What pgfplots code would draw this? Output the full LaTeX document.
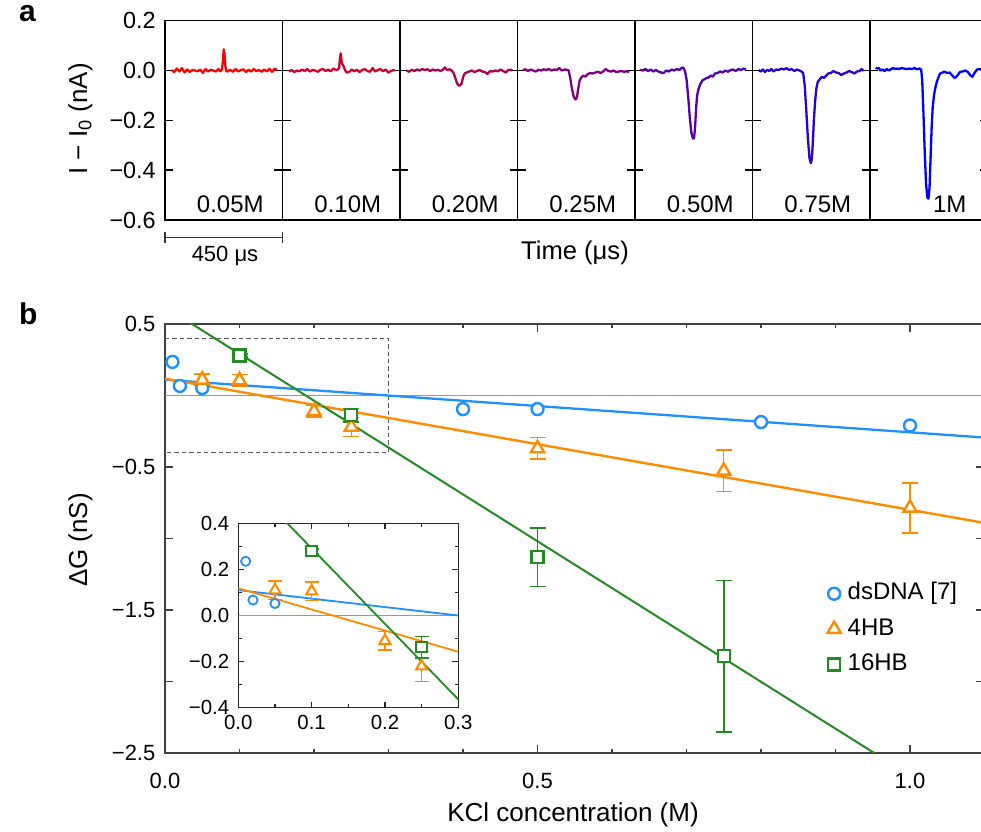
\documentclass[border=0pt]{standalone}
\usepackage{pgfplots}
\usepackage{pgfplotstable}
\pgfplotsset{compat=1.18}
\usepackage{fontspec}
\setmainfont{Liberation Sans}

\definecolor{dsblue}{RGB}{30,144,255}
\definecolor{hborange}{RGB}{255,140,0}
\definecolor{hbgreen}{RGB}{34,139,34}
\newcommand{\fs}[1]{\fontsize{#1}{#1}\selectfont}
\newlength{\errcap}

% ---- panel b: conductance change vs KCl ----
\pgfplotstableread{
x y
0.01 0.235
0.02 0.067
0.05 0.052
0.40 -0.095
0.50 -0.095
0.80 -0.186
1.00 -0.210
}\dsdna
\pgfplotstableread{
x y e
0.05 0.110 0.040
0.10 0.105 0.040
0.20 -0.110 0.040
0.25 -0.220 0.065
0.50 -0.370 0.075
0.75 -0.527 0.145
1.00 -0.786 0.175
}\fourhb
\pgfplotstableread{
x y e
0.10 0.279 0.010
0.25 -0.137 0.047
0.50 -1.130 0.205
0.75 -1.822 0.530
}\sixteenhb
% linear fits, end points
\pgfplotstableread{
x yds yfour ysixteen
0.0 0.110 0.118 0.619
1.1 -0.294 -0.891 -2.985
}\fits

% ---- panel a: current traces ----
\pgfplotstableread{
t v
25 0.002
35 -0.006
45 0.008
55 -0.004
65 0.010
75 -0.008
85 0.004
95 -0.006
105 0.002
115 0.000
125 -0.003
135 0.004
145 -0.010
155 0.006
165 -0.004
175 0.003
185 0.000
195 -0.004
205 0.006
212 -0.003
218 0.004
222 0.040
225 0.085
228 0.068
231 0.020
234 -0.002
240 -0.004
250 0.003
260 -0.005
270 0.006
280 -0.003
290 0.001
300 0.005
310 -0.006
320 0.003
330 -0.004
340 0.006
350 -0.002
360 0.002
370 -0.005
380 0.004
390 -0.003
400 0.007
410 -0.005
420 0.008
428 0.002
}\traceA
\pgfplotstableread{
t v
25 -0.004
35 0.002
45 -0.006
55 0.000
65 -0.003
75 0.004
85 -0.002
95 0.006
105 -0.004
115 0.002
125 0.000
135 -0.005
145 0.003
155 0.006
165 -0.002
175 0.004
185 -0.003
195 0.008
205 0.002
212 0.004
217 0.010
220 0.050
223 0.069
226 0.040
229 0.025
233 0.020
238 0.005
245 -0.008
255 -0.006
265 0.004
275 -0.003
285 0.003
295 -0.006
305 0.002
315 0.006
325 -0.002
335 -0.005
345 0.010
355 -0.004
365 0.002
375 0.006
385 -0.003
395 0.004
405 -0.008
415 -0.002
425 0.002
430 -0.002
}\traceB
\pgfplotstableread{
t v
25 0.000
35 -0.005
45 0.003
55 -0.002
65 0.004
75 0.000
85 0.006
95 0.002
105 0.005
115 -0.002
125 0.004
135 0.000
145 0.003
155 -0.002
165 0.004
172 0.012
180 0.002
190 0.005
198 0.000
205 -0.010
212 -0.030
218 -0.050
224 -0.060
230 -0.060
236 -0.052
242 -0.025
248 -0.012
255 -0.008
265 -0.004
275 0.000
285 -0.006
295 -0.002
305 0.002
315 -0.004
325 -0.006
335 -0.014
345 -0.002
355 -0.004
365 0.000
375 -0.003
385 0.004
395 -0.002
405 -0.008
415 0.002
425 0.003
430 0.000
}\traceC
\pgfplotstableread{
t v
20 0.002
30 0.005
40 -0.002
50 0.004
60 0.000
70 -0.004
80 0.003
90 0.000
100 0.005
110 0.002
120 0.006
130 0.000
140 0.004
150 0.002
160 0.010
170 0.000
180 0.004
190 0.003
196 0.000
202 -0.030
208 -0.070
214 -0.100
220 -0.115
224 -0.116
228 -0.105
233 -0.070
238 -0.040
244 -0.028
252 -0.020
260 -0.025
268 -0.015
278 -0.010
288 -0.012
298 -0.008
308 -0.005
318 -0.010
328 -0.004
338 0.006
348 -0.002
358 -0.004
368 0.000
378 -0.006
388 -0.004
398 -0.002
408 -0.005
418 -0.003
428 -0.006
}\traceD
\pgfplotstableread{
t v
20 0.003
30 0.000
40 0.006
50 -0.002
60 0.004
70 -0.004
80 0.002
90 -0.004
100 -0.008
110 -0.010
120 0.000
130 -0.004
140 0.004
150 0.000
160 0.006
170 0.002
180 0.012
186 0.010
192 -0.005
198 -0.040
204 -0.110
210 -0.190
216 -0.250
222 -0.273
226 -0.273
230 -0.230
234 -0.150
238 -0.100
243 -0.075
250 -0.055
258 -0.040
266 -0.035
274 -0.030
282 -0.028
290 -0.020
298 -0.025
306 -0.012
316 -0.010
326 -0.004
336 -0.008
346 0.000
356 -0.005
366 0.002
376 0.004
386 -0.002
396 0.006
406 0.002
416 0.008
425 0.004
}\traceE
\pgfplotstableread{
t v
23 0.002
32 -0.004
40 0.004
48 -0.006
56 0.003
64 -0.002
72 0.006
80 -0.004
90 0.004
100 0.002
110 0.008
120 0.004
130 0.010
140 0.002
150 0.006
160 -0.002
170 0.004
180 0.000
188 -0.004
194 -0.010
200 -0.060
206 -0.160
212 -0.270
218 -0.350
223 -0.372
227 -0.358
231 -0.290
235 -0.200
240 -0.120
245 -0.070
250 -0.045
258 -0.035
266 -0.025
274 -0.030
282 -0.020
290 -0.012
300 -0.010
310 -0.002
320 -0.008
330 -0.010
340 -0.018
350 -0.012
360 -0.008
370 -0.002
380 -0.006
390 -0.012
400 -0.004
410 -0.002
418 0.006
425 -0.002
}\traceF
\pgfplotstableread{
t v
22 0.012
28 0.008
34 0.010
40 0.000
48 0.004
56 -0.002
64 0.006
72 0.000
80 0.005
88 0.010
96 0.006
104 0.008
112 0.006
120 0.010
130 0.008
140 0.006
150 0.008
160 0.006
170 0.010
180 0.005
190 0.008
196 0.004
200 -0.040
205 -0.180
210 -0.340
215 -0.460
220 -0.512
224 -0.514
228 -0.470
232 -0.350
236 -0.230
240 -0.150
245 -0.100
250 -0.070
256 -0.045
262 -0.028
268 -0.012
275 -0.010
285 -0.004
295 -0.010
305 -0.008
315 -0.020
325 -0.030
335 -0.020
345 -0.005
355 -0.004
365 0.000
375 -0.006
385 -0.020
392 -0.025
400 -0.010
410 0.004
420 0.006
430 0.004
}\traceG

\pgfplotsset{
  trace/.style={
    at={(#1,305.5pt)}, anchor=south west, scale only axis,
    width=58.75pt, height=99.65pt,
    xmin=0, xmax=450, ymin=-0.6, ymax=0.2,
    xtick=\empty, ytick={-0.6,-0.4,-0.2,0,0.2}, yticklabels={,,,,},
    tick align=inside, ytick pos=both, major tick length=4pt,
    axis line style={black, line width=0.75pt},
    every tick/.append style={black, line width=0.7pt},
  },
  tr/.style={#1, line width=1.15pt, line join=round},
  % error bar with a flat cap, drawn in the colour of its own plot
  ebar/.style 2 args={#1, only marks, mark=none, forget plot,
    error bars/.cd, y dir=both, y explicit,
    draw error bar/.code 2 args={%
      \draw[#1, line width=#2] ##1 -- ##2 node[pos=1, sloped, allow upside down,
        inner sep=0pt, outer sep=0pt, minimum width=0pt,
        minimum height=\errcap] (ecap) {};
      \draw[#1, line width=#2] (ecap.north) -- (ecap.south);
    }},
}
\tikzset{conc/.style={anchor=base east, font=\fs{12}}}

\begin{document}
\begin{tikzpicture}
\useasboundingbox (0,0) rectangle (490.5pt,415.5pt);

% ================= panel a =================
\begin{axis}[trace=82.5pt,
  yticklabels={−0.6,−0.4,−0.2,0.0,0.2},
  yticklabel style={font=\fs{11.7}, xshift=-1.1pt}]
  \addplot[tr=red] table {\traceA};
  \node[conc] at (rel axis cs:0.9,0.037) {0.05M};
\end{axis}
\begin{axis}[trace=141.25pt]
  \addplot[tr=red!83!blue] table {\traceB};
  \node[conc] at (rel axis cs:0.9,0.037) {0.10M};
\end{axis}
\begin{axis}[trace=200pt]
  \addplot[tr=red!67!blue] table {\traceC};
  \node[conc] at (rel axis cs:0.9,0.037) {0.20M};
\end{axis}
\begin{axis}[trace=258.75pt]
  \addplot[tr=red!50!blue] table {\traceD};
  \node[conc] at (rel axis cs:0.9,0.037) {0.25M};
\end{axis}
\begin{axis}[trace=317.5pt]
  \addplot[tr=red!33!blue] table {\traceE};
  \node[conc] at (rel axis cs:0.9,0.037) {0.50M};
\end{axis}
\begin{axis}[trace=376.25pt]
  \addplot[tr=red!17!blue] table {\traceF};
  \node[conc] at (rel axis cs:0.9,0.037) {0.75M};
\end{axis}
\begin{axis}[trace=435pt]
  \addplot[tr=blue] table {\traceG};
  \node[conc] at (rel axis cs:0.88,0.037) {1M};
\end{axis}

\node[anchor=base west, font=\fs{15}\bfseries] at (6pt,404.6pt) {a};
\node[rotate=90, anchor=base, font=\fs{13}] at (43.5pt,356pt) {I − I\textsubscript{0} (nA)};
\draw[black!80, line width=0.6pt] (82.5pt,296.6pt) -- (141.25pt,296.6pt);
\draw[black!80, line width=0.6pt] (82.5pt,299.3pt) -- (82.5pt,294pt);
\draw[black!80, line width=0.6pt] (141.25pt,299.3pt) -- (141.25pt,294pt);
\node[anchor=base, font=\fs{11}] at (112.5pt,284.7pt) {450 μs};
\node[anchor=base, font=\fs{12.8}] at (287.5pt,285.5pt) {Time (μs)};

% ================= panel b =================
\node[anchor=base west, font=\fs{15}\bfseries] at (6pt,253pt) {b};
\setlength{\errcap}{8pt}
\begin{axis}[
  at={(82.5pt,39pt)}, anchor=south west, scale only axis,
  width=409.75pt, height=214.5pt,
  xmin=0, xmax=1.1, ymin=-2.5, ymax=0.5,
  xtick={0,0.5,1}, xticklabels={0.0,0.5,1.0},
  minor xtick={0.1,0.2,0.3,0.4,0.6,0.7,0.8,0.9},
  ytick={0.5,0,-0.5,-1,-1.5,-2,-2.5},
  yticklabels={0.5,,−0.5,,−1.5,,−2.5},
  tick align=inside, xtick pos=both, ytick pos=both,
  major tick length=4.2pt, minor tick length=2pt,
  axis line style={black!75, line width=0.7pt},
  every tick/.append style={black!75, line width=0.6pt},
  xticklabel style={font=\fs{11}, yshift=-6.3pt},
  yticklabel style={font=\fs{11}, xshift=-1.3pt},
  legend style={draw=none, fill=none, at={(0.808,0.403)}, anchor=north west,
    inner sep=0pt, font=\fs{12}, row sep=4.5pt, column sep=2.5pt,
    nodes={inner sep=1pt, text height=8.6pt, text depth=2.6pt}},
  legend cell align=left,
]
  \addplot[gray!80, line width=0.5pt, forget plot] coordinates {(0,0) (1.1,0)};
  \addplot[black!65, line width=0.55pt, dash pattern=on 2.2pt off 1.5pt, forget plot]
    coordinates {(0,0.4) (0.3,0.4) (0.3,-0.4) (0,-0.4)};
  \addplot[dsblue, line width=1.15pt, forget plot] table[x=x, y=yds] {\fits};
  \addplot[hborange, line width=1.2pt, forget plot] table[x=x, y=yfour] {\fits};
  \addplot[hbgreen, line width=1pt, forget plot] table[x=x, y=ysixteen] {\fits};
  \addplot[ebar={hborange}{0.7pt}] table[x=x, y=y, y error=e] {\fourhb};
  \addplot[ebar={hbgreen}{0.75pt}] table[x=x, y=y, y error=e] {\sixteenhb};
  \addplot[dsblue, only marks, mark=*, mark size=3pt, line width=1.2pt,
    mark options={fill=white}, forget plot] table[x=x, y=y] {\dsdna};
  \addplot[hborange, only marks, mark=triangle*, mark size=3.8pt, line width=1.2pt,
    mark options={fill=white}, forget plot] table[x=x, y=y] {\fourhb};
  \addplot[hbgreen, only marks, mark=square*, mark size=3pt, line width=1.2pt,
    mark options={fill=white}, forget plot] table[x=x, y=y] {\sixteenhb};

  \addlegendimage{dsblue, only marks, mark=*, mark size=3pt, line width=1.2pt, mark options={fill=white}}
  \addlegendentry{dsDNA [7]}
  \addlegendimage{hborange, only marks, mark=triangle*, mark size=3.8pt, line width=1.2pt, mark options={fill=white}}
  \addlegendentry{4HB}
  \addlegendimage{hbgreen, only marks, mark=square*, mark size=3pt, line width=1.2pt, mark options={fill=white}}
  \addlegendentry{16HB}
\end{axis}

% inset
\setlength{\errcap}{7pt}
\begin{axis}[
  at={(119.15pt,61.65pt)}, anchor=south west, scale only axis,
  width=110pt, height=92.2pt,
  xmin=0, xmax=0.3, ymin=-0.4, ymax=0.4,
  axis background/.style={fill=white},
  xtick={0,0.1,0.2,0.3}, xticklabels={0.0,0.1,0.2,0.3},
  minor xtick={0.05,0.15,0.25},
  ytick={-0.4,-0.2,0,0.2,0.4}, yticklabels={−0.4,−0.2,0.0,0.2,0.4},
  minor ytick={-0.3,-0.1,0.1,0.3},
  tick align=inside, xtick pos=both, ytick pos=both,
  major tick length=3pt, minor tick length=1.8pt,
  axis line style={black!85, line width=0.65pt},
  every tick/.append style={black!85, line width=0.55pt},
  xticklabel style={font=\fs{10.2}},
  yticklabel style={font=\fs{10.2}, xshift=-1pt},
]
  \addplot[gray!80, line width=0.5pt] coordinates {(0,0) (0.3,0)};
  \addplot[dsblue, line width=0.9pt] table[x=x, y=yds] {\fits};
  \addplot[hborange, line width=0.9pt] table[x=x, y=yfour] {\fits};
  \addplot[hbgreen, line width=0.9pt] table[x=x, y=ysixteen] {\fits};
  \addplot[ebar={hborange}{0.6pt}] table[x=x, y=y, y error=e] {\fourhb};
  \addplot[ebar={hbgreen}{0.65pt}] table[x=x, y=y, y error=e] {\sixteenhb};
  \addplot[dsblue, only marks, mark=*, mark size=2.3pt, line width=0.9pt,
    mark options={fill=white}] table[x=x, y=y] {\dsdna};
  \addplot[hborange, only marks, mark=triangle*, mark size=3.2pt, line width=1pt,
    mark options={fill=white}] table[x=x, y=y] {\fourhb};
  \addplot[hbgreen, only marks, mark=square*, mark size=2.6pt, line width=1pt,
    mark options={fill=white}] table[x=x, y=y] {\sixteenhb};
\end{axis}

\node[rotate=90, anchor=base, font=\fs{13}] at (43.5pt,145.5pt) {ΔG (nS)};
\node[anchor=base, font=\fs{13}] at (286.5pt,4.6pt) {KCl concentration (M)};
\end{tikzpicture}
\end{document}
